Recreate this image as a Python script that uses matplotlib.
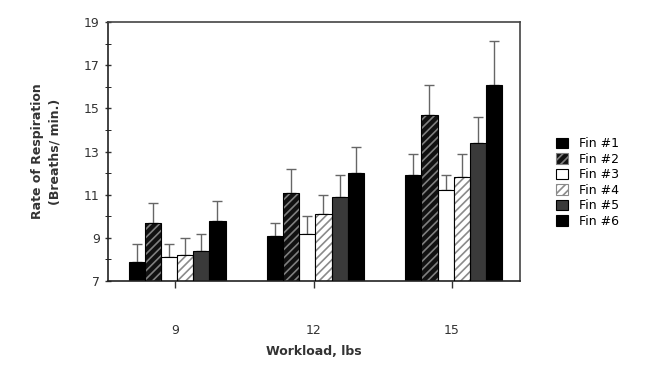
import numpy as np
import matplotlib.pyplot as plt
from matplotlib.patches import Patch
from matplotlib.ticker import MultipleLocator

workloads = [9, 12, 15]
fins = ['Fin #1', 'Fin #2', 'Fin #3', 'Fin #4', 'Fin #5', 'Fin #6']
# mean breathing rate per fin, one list per workload order (9, 12, 15)
means = [
    [7.9, 9.1, 11.9],
    [9.7, 11.1, 14.7],
    [8.1, 9.2, 11.2],
    [8.2, 10.1, 11.8],
    [8.4, 10.9, 13.4],
    [9.8, 12.0, 16.1],
]
errs = [
    [0.8, 0.6, 1.0],
    [0.9, 1.1, 1.4],
    [0.6, 0.8, 0.7],
    [0.8, 0.9, 1.1],
    [0.8, 1.0, 1.2],
    [0.9, 1.2, 2.0],
]

faces = ['black', '#111111', 'white', 'white', '#3a3a3a', 'black']
hatch_cols = [None, '#808080', None, '#8a8a8a', None, None]
hatches = [None, '////', None, '////', None, None]

plt.rcParams['hatch.linewidth'] = 1.2
fig = plt.figure(figsize=(6.48, 3.68), dpi=100)
ax = fig.add_axes([0.1667, 0.2364, 0.6358, 0.7036])

w = 0.35
x = np.array(workloads, dtype=float)
for i in range(6):
    pos = x + (i - 2.5) * w + 0.04
    if hatches[i]:
        ax.bar(pos, np.array(means[i]) - 7, w, bottom=7, color=faces[i],
               edgecolor=hatch_cols[i], hatch=hatches[i], linewidth=0, zorder=2)
        ax.bar(pos, np.array(means[i]) - 7, w, bottom=7, fill=False,
               edgecolor='black', linewidth=0.8, zorder=3)
    else:
        ax.bar(pos, np.array(means[i]) - 7, w, bottom=7, color=faces[i],
               edgecolor='black', linewidth=0.8, zorder=2)
    ax.errorbar(pos, means[i], yerr=[np.zeros(3), errs[i]], fmt='none',
                ecolor='#666666', elinewidth=1, capsize=3.5, capthick=1, zorder=1)

ax.set_xlim(7.54, 16.48)
ax.set_ylim(7, 19)
ax.set_xticks(workloads)
ax.set_yticks(range(7, 20, 2))
ax.yaxis.set_minor_locator(MultipleLocator(1))
ax.tick_params(axis='both', labelsize=9, width=1, length=5, colors='#333333')
ax.tick_params(axis='x', pad=26)
ax.tick_params(axis='y', which='both', direction='inout')
ax.tick_params(axis='y', which='minor', length=4)
for s in ax.spines.values():
    s.set_linewidth(1.2)
    s.set_color('#444444')
ax.spines['left'].set_color('#222222')
ax.spines['bottom'].set_color('#222222')

ax.set_ylabel('Rate of Respiration\n(Breaths/ min.)', fontsize=9,
              fontweight='bold', color='#333333', labelpad=16, linespacing=1.45)
ax.set_xlabel('Workload, lbs', fontsize=9, fontweight='bold',
              color='#333333', labelpad=6)

handles = []
for i in range(6):
    if hatches[i]:
        handles.append(Patch(facecolor=faces[i], edgecolor=hatch_cols[i],
                             hatch=hatches[i], linewidth=0.8))
    else:
        handles.append(Patch(facecolor=faces[i], edgecolor='black', linewidth=0.8))
fig.legend(handles, fins, loc='upper left', bbox_to_anchor=(0.858, 0.627),
           frameon=False, fontsize=9, handlelength=0.95, handleheight=0.95,
           labelspacing=0.2, handletextpad=0.9, borderpad=0, borderaxespad=0)

fig.savefig('out.png', dpi=100)
